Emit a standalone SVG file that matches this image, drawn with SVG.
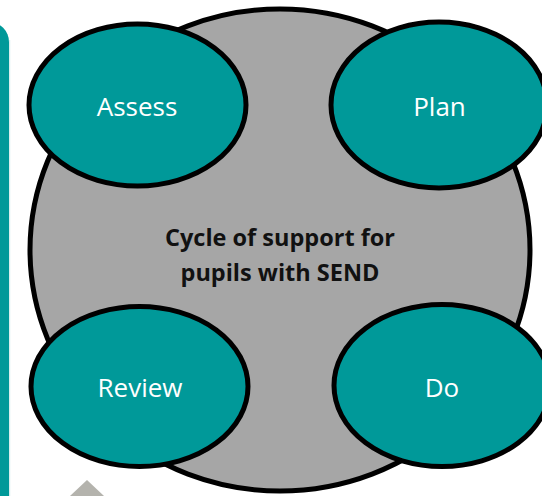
<svg xmlns="http://www.w3.org/2000/svg" width="542" height="496" viewBox="0 0 542 496">
<style>
.node{fill:#009999;stroke:#000;stroke-width:5}
.lbl{font-family:"Open Sans","Noto Sans",sans-serif;font-size:26px;fill:#fff;text-anchor:middle}
.ctr{font-family:"Open Sans","Noto Sans",sans-serif;font-size:23.5px;font-weight:bold;fill:#111;text-anchor:middle}
</style>
<rect width="542" height="496" fill="#fff"/>
<rect x="-40" y="22" width="49" height="520" rx="20" fill="#009999"/>
<line x1="9.7" y1="40" x2="9.7" y2="496" stroke="#cfeaea" stroke-width="1"/>
<polygon points="87,480 70,496 104,496" fill="#b4b3ad"/>
<g id="cycle">
<ellipse cx="280" cy="250" rx="250" ry="241" fill="#a6a6a6" stroke="#000" stroke-width="5"/>
<text class="ctr" x="280" y="246">Cycle of support for</text>
<text class="ctr" x="280" y="281">pupils with SEND</text>
</g>
<g id="connectors"></g>
<g id="assess">
<ellipse class="node" cx="137.5" cy="105" rx="108.5" ry="81"/>
<text class="lbl" x="137" y="116">Assess</text>
</g>
<g id="plan">
<ellipse class="node" cx="439" cy="105" rx="108" ry="83"/>
<text class="lbl" x="439.5" y="116">Plan</text>
</g>
<g id="review">
<ellipse class="node" cx="139.5" cy="386.5" rx="108.5" ry="80"/>
<text class="lbl" x="140" y="397">Review</text>
</g>
<g id="do">
<ellipse class="node" cx="442" cy="385.5" rx="108" ry="81"/>
<text class="lbl" x="442" y="397">Do</text>
</g>
</svg>
